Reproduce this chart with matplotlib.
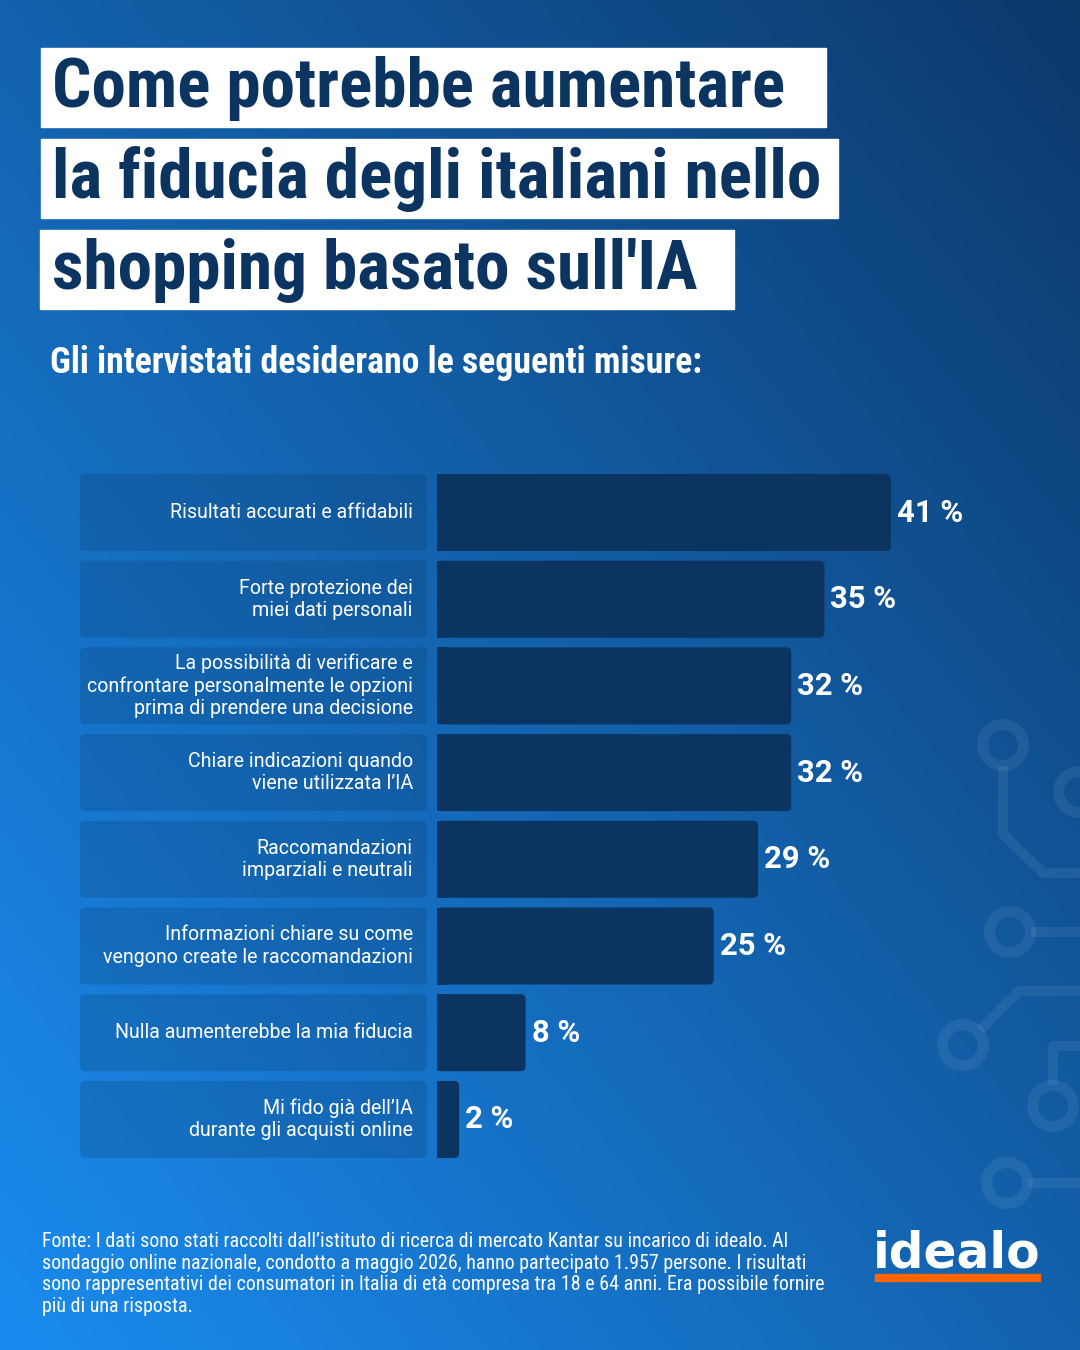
import matplotlib
matplotlib.use("Agg")
import matplotlib.pyplot as plt
import numpy as np
from matplotlib import font_manager as fm
from matplotlib.patches import FancyBboxPatch, Rectangle, Circle

# ---- data ----
labels = [
    "Risultati accurati e affidabili",
    "Forte protezione dei\nmiei dati personali",
    "La possibilità di verificare e\nconfrontare personalmente le opzioni\nprima di prendere una decisione",
    "Chiare indicazioni quando\nviene utilizzata l’IA",
    "Raccomandazioni\nimparziali e neutrali",
    "Informazioni chiare su come\nvengono create le raccomandazioni",
    "Nulla aumenterebbe la mia fiducia",
    "Mi fido già dell’IA\ndurante gli acquisti online",
]
values = [41, 35, 32, 32, 29, 25, 8, 2]

title_lines = [
    "Come potrebbe aumentare",
    "la fiducia degli italiani nello",
    "shopping basato sull'IA",
]
subtitle = "Gli intervistati desiderano le seguenti misure:"
source_lines = [
    "Fonte: I dati sono stati raccolti dall’istituto di ricerca di mercato Kantar su incarico di idealo. Al",
    "sondaggio online nazionale, condotto a maggio 2026, hanno partecipato 1.957 persone. I risultati",
    "sono rappresentativi dei consumatori in Italia di età compresa tra 18 e 64 anni. Era possibile fornire",
    "più di una risposta.",
]
logo_text = "idealo"

# ---- style ----
W, H = 1080, 1350
NAVY = "#0b3560"
ORANGE = "#ff6600"
names = {f.name for f in fm.fontManager.ttflist}
COND = "Roboto Condensed" if "Roboto Condensed" in names else "Roboto"
BASE = "Roboto"


def px(v):
    # pixels -> points at dpi 100
    return v * 0.72


fig = plt.figure(figsize=(W / 100, H / 100), dpi=100)
renderer = fig.canvas.get_renderer()

# background gradient (bright blue bottom-left -> navy top-right)
bg = fig.add_axes([0, 0, 1, 1])
bg.set_xlim(0, W)
bg.set_ylim(H, 0)
bg.axis("off")
gx, gy = np.meshgrid(np.linspace(0, 1, 270), np.linspace(0, 1, 338))
t = (gx + (1 - gy)) / 2
c0 = np.array([26, 140, 240]) / 255
c1 = np.array([12, 56, 106]) / 255
img = c0[None, None, :] * (1 - t[..., None]) + c1[None, None, :] * t[..., None]
bg.imshow(img, extent=(0, W, H, 0), aspect="auto", interpolation="bilinear", zorder=0)

# circuit decoration on the right
deco = dict(color="white", alpha=0.07, lw=px(10), solid_capstyle="butt", zorder=1)
rings = [(1003, 745), (1079, 792), (1010, 932), (963, 1045), (1053, 1106), (1007, 1183)]
for cx, cy in rings:
    bg.add_patch(Circle((cx, cy), 20.5, fill=False, ec="white", alpha=0.07, lw=px(11), zorder=1))
bg.plot([1003, 1003, 1043, W], [766, 834, 873, 873], **deco)
bg.plot([1031, W], [932, 932], **deco)
bg.plot([980, 1019, W], [1030, 991, 991], **deco)
bg.plot([1053, 1053, W], [1085, 1046, 1046], **deco)
bg.plot([1028, W], [1183, 1183], **deco)


def fit_size(strings, targets, family, weight, start=40):
    sizes = []
    for s, tw in zip(strings, targets):
        tt = fig.text(0, 0, s, fontsize=start, family=family, weight=weight)
        w = tt.get_window_extent(renderer).width
        tt.remove()
        sizes.append(start * tw / w)
    return min(sizes)


# title boxes
boxes = [(41, 48, 785, 79), (41, 139, 797, 79), (40, 230, 694, 79)]
baselines = [107, 198, 289]
tsize = fit_size(title_lines, [746, 768, 650], COND, "bold")
for (bx, by, bw, bh), yb, line in zip(boxes, baselines, title_lines):
    bg.add_patch(Rectangle((bx, by), bw, bh, color="white", zorder=2))
    bg.text(52, yb, line, fontsize=tsize, family=COND, weight="bold",
            color=NAVY, va="baseline", ha="left", zorder=3)

# subtitle
ssize = fit_size([subtitle], [652], COND, "bold")
bg.text(50, 373, subtitle, fontsize=ssize, family=COND, weight="bold",
        color="white", va="baseline", ha="left", zorder=3)

# ---- bar chart ----
PX = 11.07          # pixels per percentage point
PITCH = 86.7        # row pitch in pixels
X0 = 437            # pixel position of the zero line
top = 512.5 - PITCH / 2
bottom = top + PITCH * len(values)
ax = fig.add_axes([0, 1 - bottom / H, 1, (bottom - top) / H])
ax.set_xlim(-X0 / PX, (W - X0) / PX)
ax.set_ylim(len(values) - 0.5, -0.5)
ax.axis("off")
ax.patch.set_alpha(0)

bh = 77 / PITCH
r_x = 5 / PX
aspect = (1 / PITCH) / (1 / PX)
ypos = np.arange(len(values))
bars = ax.barh(ypos, values, height=bh, color=NAVY)
for b in bars:
    x, y, w, h = b.get_x(), b.get_y(), b.get_width(), b.get_height()
    b.set_visible(False)
    ax.add_patch(FancyBboxPatch((x, y), w, h, boxstyle=f"round,pad=0,rounding_size={r_x}",
                                mutation_aspect=aspect, fc=NAVY, ec="none", zorder=3))
    ax.add_patch(Rectangle((x, y), min(w, 1.0), h, fc=NAVY, ec="none", zorder=3))

# label boxes
lb_left = (80 - X0) / PX
lb_right = (427 - X0) / PX
for i, (lab, v) in enumerate(zip(labels, values)):
    ax.add_patch(FancyBboxPatch((lb_left, i - bh / 2), lb_right - lb_left, bh,
                                boxstyle=f"round,pad=0,rounding_size={r_x}",
                                mutation_aspect=aspect, fc=NAVY, alpha=0.22, ec="none", zorder=2))
    ax.text((413 - X0) / PX, i, lab, ha="right", va="center", multialignment="right",
            fontsize=px(19.6), family=BASE, color="white", linespacing=1.21, zorder=4)
    ax.text(v + 6 / PX, i, f"{v} %", ha="left", va="center", fontsize=px(31),
            family=BASE, weight="bold", color="white", zorder=4)

# ---- footer ----
fsize = fit_size(source_lines[:3], [746, 770, 786], COND, "normal")
for k, line in enumerate(source_lines):
    bg.text(42, 1247 + 21.7 * k, line, fontsize=fsize, family=COND, color="white",
            va="baseline", ha="left", zorder=3)

lsize = fit_size([logo_text], [167], "DejaVu Sans", "bold")
bg.text(873, 1268, logo_text, fontsize=lsize, family="DejaVu Sans", weight="bold",
        color="white", va="baseline", ha="left", zorder=3)
bg.add_patch(Rectangle((875, 1274), 165, 7, color=ORANGE, zorder=3))

fig.savefig("out.png", dpi=100)
